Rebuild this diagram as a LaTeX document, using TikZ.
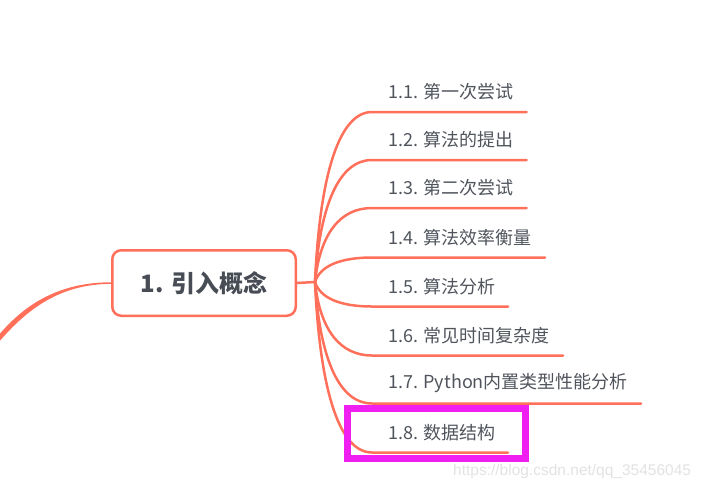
\documentclass[tikz,border=0pt]{standalone}
\usepackage{fontspec}
\setmainfont{Noto Sans CJK SC}
\newfontfamily\wmfont{Liberation Sans}
\usetikzlibrary{calc}
\definecolor{branch}{RGB}{255,111,89}
\definecolor{txt}{RGB}{80,84,92}
\definecolor{ctxt}{RGB}{71,76,85}
\definecolor{hl}{RGB}{240,30,240}
\definecolor{wm}{RGB}{226,226,226}
\begin{document}
\begin{tikzpicture}[x=1pt,y=-1pt,
  branchline/.style={draw=branch, line width=2.5pt, line cap=round},
  leaf/.style={anchor=west, inner sep=0pt, font=\fontsize{18}{21}\selectfont, text=txt},
  rootbox/.style={draw=branch, line width=2.5pt, rounded corners=9pt, fill=white,
    minimum width=183.5pt, minimum height=65.5pt, inner sep=0pt,
    font=\bfseries\fontsize{24}{28}\selectfont, text=ctxt}]
\useasboundingbox (0,0) rectangle (706,488);
\coordinate (hub) at (315,282);
\coordinate (tailA) at (-2,336);
\coordinate (tailB) at (-2,343);
% branches
\foreach \n/\y/\e/\t in {1/112/526.5/{1.1. 第一次尝试},
                         2/160/526.5/{1.2. 算法的提出},
                         3/208/526.5/{1.3. 第二次尝试},
                         4/257.5/545/{1.4. 算法效率衡量},
                         5/306.5/508/{1.5. 算法分析},
                         6/355.5/563/{1.6. 常见时间复杂度},
                         7/403.5/641/{1.7. Python内置类型性能分析},
                         8/452.5/508/{1.8. 数据结构}}{
  \coordinate (u\n) at (\e,\y);
  \node[leaf] (l\n) at (388,\y-20) {\t};
  \draw[branchline] (hub) .. controls (320,{282+0.65*(\y-282)}) and (340,\y) .. (372,\y) -- (u\n);
}
\node[rootbox] (root) at (204,283) {1. 引入概念};
\draw[branchline] (root.east) -- (hub);
% tapered left connector
\fill[branch] ($(root.west)+(0,-0.7)$) .. controls (60,282.3) and (25,303.5) .. (tailA)
  -- (tailB) .. controls (27,309) and (60,284) .. ($(root.west)+(0,0.9)$) -- cycle;
% highlight
\draw[hl, line width=7pt] (347.5,408.5) rectangle (525,458.5);
% watermark
\node[anchor=base west, inner sep=0pt, font=\wmfont\fontsize{15.5}{18}\selectfont, text=wm] (wm) at (453,475) {https://blog.csdn.net/qq\_35456045};
\end{tikzpicture}
\end{document}
